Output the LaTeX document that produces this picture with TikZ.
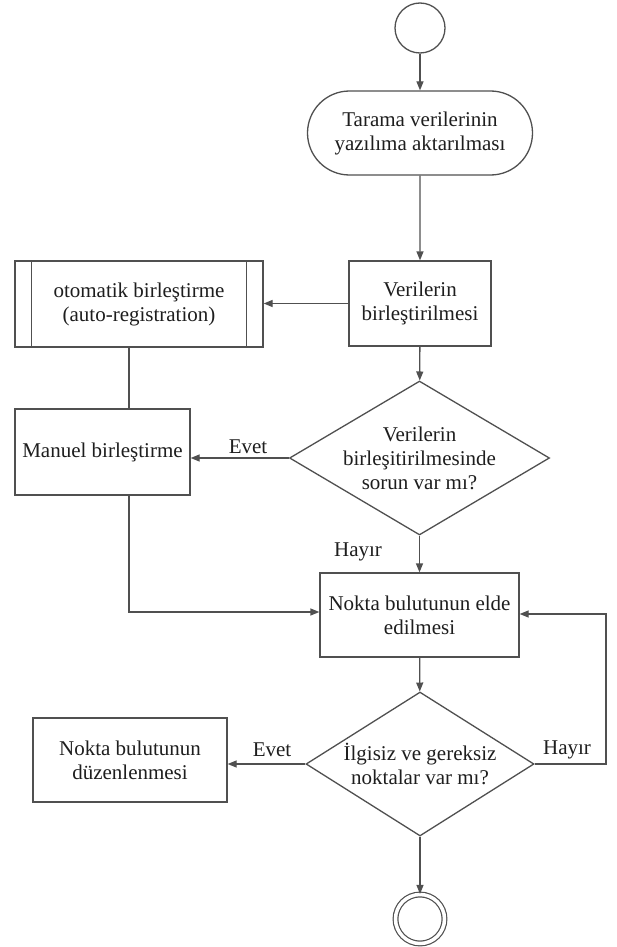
\documentclass[tikz,border=0pt]{standalone}
\usepackage{fontspec}
\setmainfont{Liberation Serif}
\usetikzlibrary{shapes.geometric,shapes.misc,arrows.meta}
\definecolor{lc}{RGB}{80,80,80}
\definecolor{tc}{RGB}{30,30,30}
\begin{document}
\begin{tikzpicture}[x=1pt,y=-1pt,
  font=\fontsize{21}{24}\selectfont, text=tc,
  box/.style={draw=lc, line width=1.3pt, rectangle, inner sep=0pt, align=center},
  dia/.style={draw=lc, line width=1.3pt, diamond, inner sep=0pt},
  arr/.style={draw=lc, line width=1.3pt, -{Triangle[length=9pt,width=7pt]}},
  ln/.style={draw=lc, line width=1.3pt},
  lbl/.style={inner sep=0pt}]
\useasboundingbox (0,0) rectangle (616,947);
\fill[white] (0,0) rectangle (616,947);

\node[draw=lc, line width=1.3pt, circle, minimum size=50pt, inner sep=0pt] (start) at (420,28) {};
\node[box, rounded rectangle, minimum width=225pt, minimum height=84pt] (tar) at (420,133) {Tarama verilerinin\\yazılıma aktarılması};
\node[box, minimum width=142pt, minimum height=85pt] (ver) at (420,303.5) {Verilerin\\birleştirilmesi};
\node[box, minimum width=248pt, minimum height=86pt] (oto) at (139,304) {otomatik birleştirme\\(auto-registration)};
\draw[ln] ([xshift=17pt]oto.north west) -- ([xshift=17pt]oto.south west);
\draw[ln] ([xshift=-17pt]oto.north east) -- ([xshift=-17pt]oto.south east);
\node[box, minimum width=175pt, minimum height=86pt] (man) at (102.5,452) {Manuel birleştirme};
\node[dia, minimum width=260pt, minimum height=154pt] (d1) at (419.5,458) {};
\node[align=center, inner sep=0pt] (d1t) at (d1.center) {Verilerin\\birleşitirilmesinde\\sorun var mı?};
\node[box, minimum width=199pt, minimum height=84pt] (nok) at (419.5,615) {Nokta bulutunun elde\\edilmesi};
\node[dia, minimum width=228pt, minimum height=144pt] (d2) at (420,764) {};
\node[align=center, inner sep=0pt] (d2t) at (d2.center) {İlgisiz ve gereksiz\\noktalar var mı?};
\node[box, minimum width=194pt, minimum height=84pt] (duz) at (130,760) {Nokta bulutunun\\düzenlenmesi};
\node[draw=lc, line width=1.2pt, double=white, double distance=3.5pt, circle, minimum size=49pt, inner sep=0pt] (end) at (420,919) {};

\node[lbl] (ev1) at (248,447) {Evet};
\node[lbl] (hy1) at (358,552) {Hayır};
\node[lbl] (ev2) at (272,750) {Evet};
\node[lbl] (hy2) at (567,750) {Hayır};
\coordinate (lp) at (606,764);

\draw[arr] (start) -- (tar);
\draw[arr] (tar) -- (ver);
\draw[arr] (ver.west) -- (oto.east |- ver.west);
\draw[arr] (ver) -- (d1);
\draw[ln] ([xshift=-10pt]oto.south) -- ([xshift=-10pt]oto.south |- man.north);
\draw[arr] (d1.west) -- (d1.west -| man.east);
\draw[arr] (d1) -- (nok);
\draw[arr] ([xshift=26.5pt]man.south) |- ([yshift=3pt]nok.west);
\draw[arr] (nok) -- (d2);
\draw[arr] (d2.west) -- (d2.west -| duz.east);
\draw[arr] (d2.east) -- (lp) |- ([yshift=1pt]nok.east);
\draw[arr] (d2) -- (end);
\end{tikzpicture}
\end{document}
